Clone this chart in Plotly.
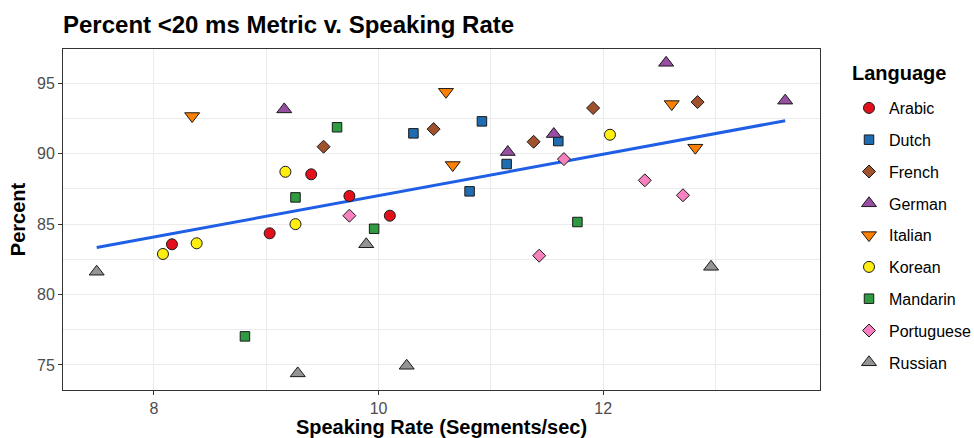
import numpy as np
import plotly.graph_objects as go

languages = ["Arabic", "Dutch", "French", "German", "Italian", "Korean", "Mandarin", "Portuguese", "Russian"]

rate_arabic = [8.16, 9.03, 9.40, 9.74, 10.10]
pct_arabic = [83.57, 84.35, 88.54, 87.00, 85.60]
rate_dutch = [10.31, 10.92, 10.81, 11.14, 11.60]
pct_dutch = [91.45, 92.30, 87.33, 89.27, 90.90]
rate_french = [9.51, 10.49, 11.38, 11.91, 12.84]
pct_french = [90.50, 91.75, 90.85, 93.25, 93.67]
rate_german = [9.16, 11.15, 11.56, 12.56, 13.62]
pct_german = [93.15, 90.12, 91.40, 96.46, 93.77]
rate_italian = [8.34, 10.60, 10.66, 12.61, 12.82]
pct_italian = [92.68, 94.40, 89.20, 93.53, 90.43]
rate_korean = [8.08, 8.38, 9.17, 9.26, 12.06]
pct_korean = [82.88, 83.64, 88.72, 85.00, 91.35]
rate_mandarin = [8.81, 9.26, 9.63, 9.96, 11.77]
pct_mandarin = [77.03, 86.90, 91.88, 84.67, 85.15]
rate_portuguese = [9.74, 11.43, 11.65, 12.37, 12.71]
pct_portuguese = [85.60, 82.76, 89.62, 88.11, 87.05]
rate_russian = [7.49, 9.28, 9.89, 10.25, 12.96]
pct_russian = [81.62, 74.40, 83.57, 74.94, 81.97]

rates = [rate_arabic, rate_dutch, rate_french, rate_german, rate_italian,
         rate_korean, rate_mandarin, rate_portuguese, rate_russian]
pcts = [pct_arabic, pct_dutch, pct_french, pct_german, pct_italian,
        pct_korean, pct_mandarin, pct_portuguese, pct_russian]

colors = ["#E3101B", "#1F6DB0", "#A0522D", "#984EA3", "#FF7F00",
          "#FFEE10", "#2E9B40", "#F781BF", "#949494"]
symbols = ["circle", "square", "diamond", "triangle-up", "triangle-down",
           "circle", "square", "diamond", "triangle-up"]
sizes = [11, 9.5, 10, 13, 13, 11, 9.5, 10, 13]

FONT = "Liberation Sans, Arial, sans-serif"
W, H = 974, 438

fig = go.Figure()

# linear fit (geom_smooth method = lm, no se)
all_x = np.concatenate([np.array(r) for r in rates])
all_y = np.concatenate([np.array(p) for p in pcts])
slope, intercept = np.polyfit(all_x, all_y, 1)
fx = np.array([all_x.min(), all_x.max()])
fig.add_trace(go.Scatter(x=fx, y=slope * fx + intercept, mode="lines",
                         line=dict(color="#1F5FE6", width=3),
                         showlegend=False, hoverinfo="skip"))

for lang, xs, ys, c, s, sz in zip(languages, rates, pcts, colors, symbols, sizes):
    fig.add_trace(go.Scatter(
        x=xs, y=ys, mode="markers", name=lang, legendgroup=lang,
        marker=dict(color=c, symbol=s, size=sz,
                    line=dict(color="#1a1a1a", width=1)),
    ))

axis_common = dict(
    showline=True, linecolor="#333333", linewidth=1, mirror=True,
    ticks="outside", ticklen=4, tickcolor="#333333", tickwidth=1,
    tickfont=dict(family=FONT, size=16, color="#4D4D4D"),
    showgrid=True, gridcolor="#EBEBEB", gridwidth=1.1,
    zeroline=False, automargin=False,
)

fig.update_xaxes(
    range=[7.19, 13.93], tick0=8, dtick=2,
    minor=dict(dtick=1, tick0=8, showgrid=True, gridcolor="#EBEBEB", gridwidth=0.6, ticks=""),
    title=dict(text="<b>Speaking Rate (Segments/sec)</b>",
               font=dict(family=FONT, size=20, color="#000000"), standoff=2),
    **axis_common,
)
fig.update_yaxes(
    range=[73.22, 97.44], tick0=75, dtick=5,
    minor=dict(dtick=2.5, tick0=75, showgrid=True, gridcolor="#EBEBEB", gridwidth=0.6, ticks=""),
    title=dict(text="<b>Percent</b>",
               font=dict(family=FONT, size=20, color="#000000"), standoff=6),
    **axis_common,
)

fig.add_annotation(
    text="<b>Language</b>", xref="paper", yref="paper",
    x=(850 - 63) / (820 - 63), y=(390 - 73) / (390 - 49),
    xanchor="left", yanchor="middle", showarrow=False,
    font=dict(family=FONT, size=20, color="#000000"),
)

fig.update_layout(
    width=W, height=H,
    margin=dict(l=63, r=154, t=49, b=48),
    paper_bgcolor="white", plot_bgcolor="white",
    title=dict(text="<b>Percent <20 ms Metric v. Speaking Rate</b>",
               font=dict(family=FONT, size=24, color="#000000"),
               x=63 / W, xanchor="left", xref="container",
               y=1 - 25 / H, yanchor="middle", yref="container"),
    legend=dict(
        font=dict(family=FONT, size=16, color="#000000"),
        xref="container", yref="container",
        x=849 / W, xanchor="left", y=1 - 91 / H, yanchor="top",
        tracegroupgap=8, itemsizing="trace", maxheight=1.0,
        bgcolor="rgba(0,0,0,0)",
    ),
    showlegend=True,
)

fig.write_html("out.html")
